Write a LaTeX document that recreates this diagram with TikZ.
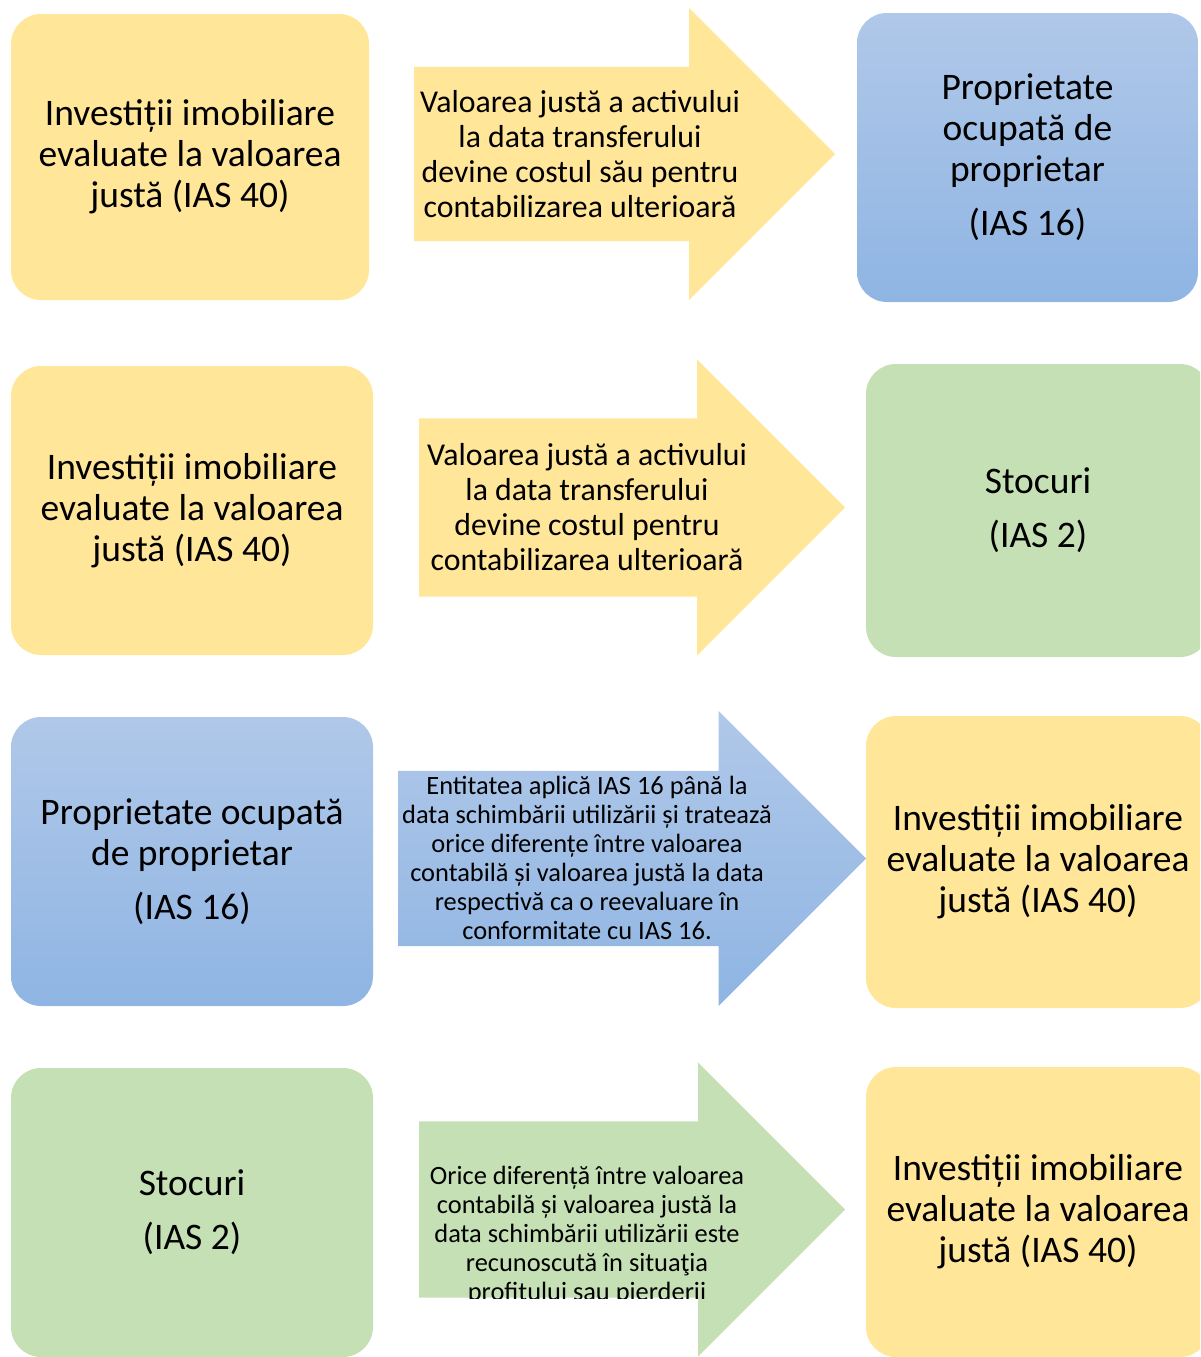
\documentclass[tikz,border=0pt]{standalone}
\usepackage{fontspec}
\setmainfont{Carlito}
\usepackage{tikz}
\usepackage{xcolor}
\usetikzlibrary{shapes.arrows, shadings}
\definecolor{IASYellow}{HTML}{FFE699}
\definecolor{IASGreen}{HTML}{C5E0B4}
\definecolor{IASBlueTop}{HTML}{B0C8E9}
\definecolor{IASBlueBottom}{HTML}{8FB5E3}
\tikzset{
    % Box styles - rounded, no border
    standard/.style={
        rectangle,
        rounded corners=30pt,
        draw=none,
        inner sep=0pt,
        align=center,
        font=\fontsize{37.5}{41}\selectfont
    },
    investbox/.style={standard, fill=IASYellow},
    stockbox/.style={standard, fill=IASGreen},
    ownerbox/.style={standard, top color=IASBlueTop, bottom color=IASBlueBottom},
    % Block arrow styles (body height from inner ysep, placed by its tail)
    blockarrow/.style={
        single arrow,
        single arrow tip angle=90,
        draw=none,
        anchor=tail,
        inner xsep=0pt,
        inner ysep=87.5pt,
        single arrow head extend=59pt
    },
    yellowarrow/.style={blockarrow, fill=IASYellow},
    greenarrow/.style={blockarrow, fill=IASGreen},
    bluearrow/.style={blockarrow, top color=IASBlueTop, bottom color=IASBlueBottom},
    % Arrow texts
    bigtext/.style={inner sep=0pt, align=center, font=\fontsize{31.8}{35}\selectfont},
    smalltext/.style={inner sep=0pt, align=center, font=\fontsize{26.4}{29}\selectfont}
}

\begin{document}
\begin{tikzpicture}[x=1pt, y=-1pt]
    \useasboundingbox (0,0) rectangle (1200,1357);
    \clip (0,0) rectangle (1200,1357);

    % Row 1: IAS 40 -> IAS 16
    \node[investbox, minimum width=358pt, minimum height=286pt] (inv1) at (190,157) {Investiții imobiliare\\evaluate la valoarea\\justă (IAS 40)};
    \node[yellowarrow, inner ysep=87pt, minimum height=421pt] (arr1) at (414,154) {};
    \node[bigtext] (txt1) at (580,154) {Valoarea justă a activului\\la data transferului\\devine costul său pentru\\contabilizarea ulterioară};
    \node[ownerbox, minimum width=341pt, minimum height=289pt] (own1) at (1027.5,157.5) {Proprietate\\ocupată de\\proprietar\\[13pt](IAS 16)};

    % Row 2: IAS 40 -> IAS 2
    \node[investbox, minimum width=362pt, minimum height=289pt] (inv2) at (192,510.5) {Investiții imobiliare\\evaluate la valoarea\\justă (IAS 40)};
    \node[yellowarrow, inner ysep=89pt, minimum height=426pt] (arr2) at (419,507.5) {};
    \node[bigtext] (txt2) at (587,507) {Valoarea justă a activului\\la data transferului\\devine costul pentru\\contabilizarea ulterioară};
    \node[stockbox, minimum width=344pt, minimum height=293pt] (stk2) at (1038,510.5) {Stocuri\\[13pt](IAS 2)};

    % Row 3: IAS 16 -> IAS 40
    \node[ownerbox, minimum width=362pt, minimum height=289pt] (own3) at (192,861.5) {Proprietate ocupată\\de proprietar\\[13pt](IAS 16)};
    \node[bluearrow, single arrow head extend=60pt, minimum height=468pt] (arr3) at (398,858.5) {};
    \node[smalltext] (txt3) at (587,858) {Entitatea aplică IAS 16 până la\\data schimbării utilizării și tratează\\orice diferențe între valoarea\\contabilă și valoarea justă la data\\respectivă ca o reevaluare în\\conformitate cu IAS 16.};
    \node[investbox, minimum width=344pt, minimum height=292pt] (inv3) at (1038,862) {Investiții imobiliare\\evaluate la valoarea\\justă (IAS 40)};

    % Row 4: IAS 2 -> IAS 40
    \node[stockbox, minimum width=362pt, minimum height=289pt] (stk4) at (192,1212.5) {Stocuri\\[13pt](IAS 2)};
    \node[greenarrow, inner ysep=88pt, minimum height=426pt] (arr4) at (419,1209.5) {};
    \begin{scope}
        \clip (398,1122) rectangle (866,1298);
        \node[smalltext] (txt4) at (587,1235) {Orice diferență între valoarea\\contabilă și valoarea justă la\\data schimbării utilizării este\\recunoscută în situaţia\\profitului sau pierderii};
    \end{scope}
    \node[investbox, minimum width=344pt, minimum height=290pt] (inv4) at (1038,1212) {Investiții imobiliare\\evaluate la valoarea\\justă (IAS 40)};
\end{tikzpicture}
\end{document}
